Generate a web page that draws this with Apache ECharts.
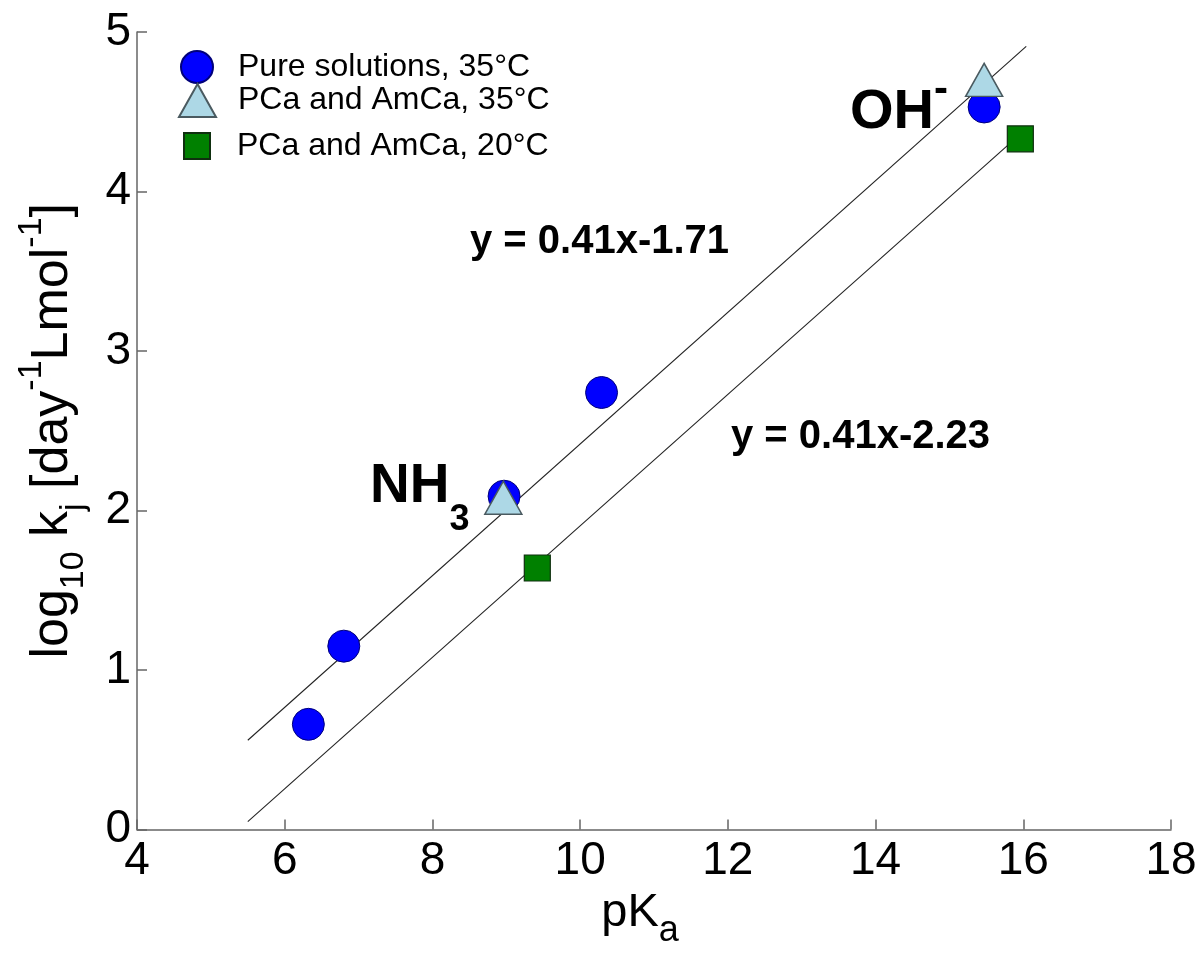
<!DOCTYPE html>
<html><head><meta charset="utf-8">
<script src="https://cdn.jsdelivr.net/npm/echarts@6/dist/echarts.min.js"></script>
<style>html,body{margin:0;padding:0;background:#fff}#c{width:1204px;height:954px}</style>
</head><body><div id="c"></div>
<script>
// ---- data ----
const seriesNames = ['Pure solutions, 35°C', 'PCa and AmCa, 35°C', 'PCa and AmCa, 20°C'];
const pureX = [6.32, 6.80, 8.97, 10.29, 15.47];
const pureY = [0.66, 1.15, 2.09, 2.74, 4.53];
const mix35X = [8.96, 15.47];
const mix35Y = [2.08, 4.70];
const mix20X = [9.42, 15.96];
const mix20Y = [1.64, 4.33];
const fit35X = [5.50, 16.04];
const fit35Y = [0.56, 4.91];
const fit20X = [5.50, 15.96];
const fit20Y = [0.05, 4.36];
const xTicks = [4, 6, 8, 10, 12, 14, 16, 18];
const yTicks = [0, 1, 2, 3, 4, 5];
const eqTexts = ['y = 0.41x-1.71', 'y = 0.41x-2.23'];

const zip = (xs, ys) => xs.map((x, i) => [x, ys[i]]);
const FONT = 'Liberation Sans, Arial, Helvetica, sans-serif';
const axisCol = '#666666';

const chart = echarts.init(document.getElementById('c'), null, {renderer: 'canvas'});

function legendFor(name, icon, left, top, w, h, padLeft, keep) {
  return {
    data: [{name: name, icon: icon}],
    left: left, top: top, padding: 0,
    itemWidth: w, itemHeight: h,
    symbolKeepAspect: keep,
    selectedMode: false,
    textStyle: {fontFamily: FONT, fontSize: 32, color: '#000', padding: [0, 0, 4, padLeft]}
  };
}

const option = {
  animation: false,
  backgroundColor: '#fff',
  grid: {left: 137, right: 33, top: 32, bottom: 121, containLabel: false},
  legend: [
    legendFor(seriesNames[0], 'circle', 180, 50, 32, 32, 20, true),
    legendFor(seriesNames[1], 'triangle', 178, 83, 37, 33, 17, false),
    legendFor(seriesNames[2], 'rect', 183, 130, 26, 26, 22, true)
  ],
  xAxis: {
    type: 'value', min: xTicks[0], max: xTicks[xTicks.length - 1], interval: xTicks[1] - xTicks[0],
    splitLine: {show: false},
    axisLine: {show: true, onZero: false, lineStyle: {color: axisCol, width: 1.5}},
    axisTick: {show: true, inside: true, length: 10, lineStyle: {color: axisCol, width: 1.5}},
    axisLabel: {fontFamily: FONT, fontSize: 46, color: '#000', margin: 9, showMinLabel: true, showMaxLabel: true},
    name: '{m|pK}{s|a}',
    nameLocation: 'middle', nameGap: 33,
    nameTextStyle: {
      padding: [0, 28, 0, 0],
      rich: {
        m: {fontFamily: FONT, fontSize: 47, color: '#000', lineHeight: 72, verticalAlign: 'middle'},
        s: {fontFamily: FONT, fontSize: 36, color: '#000', verticalAlign: 'bottom'}
      }
    }
  },
  yAxis: {
    type: 'value', min: yTicks[0], max: yTicks[yTicks.length - 1], interval: yTicks[1] - yTicks[0],
    splitLine: {show: false},
    axisLine: {show: true, onZero: false, lineStyle: {color: axisCol, width: 1.5}},
    axisTick: {show: true, inside: true, length: 10, lineStyle: {color: axisCol, width: 1.5}},
    axisLabel: {fontFamily: FONT, fontSize: 46, color: '#000', margin: 6, showMinLabel: true, showMaxLabel: true},
    name: '{m|log}{s|10}{m| k}{s|j}{m| [day}{p|-1}{m|Lmol}{p|-1}{m|]}',
    nameLocation: 'middle', nameGap: 46, nameRotate: 90,
    nameTextStyle: {
      rich: {
        m: {fontFamily: FONT, fontSize: 52, color: '#000', lineHeight: 76, verticalAlign: 'middle'},
        s: {fontFamily: FONT, fontSize: 34, color: '#000', verticalAlign: 'bottom'},
        p: {fontFamily: FONT, fontSize: 34, color: '#000', verticalAlign: 'top'}
      }
    }
  },
  series: [
    {type: 'line', data: zip(fit35X, fit35Y), symbol: 'none', silent: true,
     lineStyle: {color: '#222', width: 1.1}, z: 1},
    {type: 'line', data: zip(fit20X, fit20Y), symbol: 'none', silent: true,
     lineStyle: {color: '#222', width: 1.1}, z: 1},
    {name: seriesNames[0], type: 'scatter', data: zip(pureX, pureY), symbol: 'circle', symbolSize: 32,
     itemStyle: {color: '#0000ff', borderColor: '#00007a', borderWidth: 1, opacity: 1}, z: 2},
    {name: seriesNames[1], type: 'scatter', data: zip(mix35X, mix35Y), symbol: 'triangle', symbolSize: [37, 33],
     itemStyle: {color: '#add8e6', borderColor: '#4a5a60', borderWidth: 1.5, opacity: 1}, z: 3},
    {name: seriesNames[2], type: 'scatter', data: zip(mix20X, mix20Y), symbol: 'rect', symbolSize: 26,
     itemStyle: {color: '#008000', borderColor: '#0f2f0f', borderWidth: 1.2, opacity: 1}, z: 3}
  ],
  graphic: [
    {type: 'text', left: 470, top: 241.6 - 22.5, silent: true,
     style: {text: eqTexts[0], fontFamily: FONT, fontWeight: 'bold', fontSize: 40, fill: '#000', lineHeight: 45}},
    {type: 'text', left: 731, top: 436.5 - 22.5, silent: true,
     style: {text: eqTexts[1], fontFamily: FONT, fontWeight: 'bold', fontSize: 40, fill: '#000', lineHeight: 45}},
    {type: 'text', left: 370, top: 459, silent: true,
     style: {text: '{m|NH}{s|3}',
       rich: {
         m: {fontFamily: FONT, fontWeight: 'bold', fontSize: 55, fill: '#000', lineHeight: 104, verticalAlign: 'middle'},
         s: {fontFamily: FONT, fontWeight: 'bold', fontSize: 36, fill: '#000', verticalAlign: 'bottom'}
       }}},
    {type: 'text', left: 850, top: 69.5, silent: true,
     style: {text: '{m|OH}{p|-}',
       rich: {
         m: {fontFamily: FONT, fontWeight: 'bold', fontSize: 56, fill: '#000', lineHeight: 87, verticalAlign: 'middle'},
         p: {fontFamily: FONT, fontWeight: 'bold', fontSize: 42, fill: '#000', verticalAlign: 'top'}
       }}}
  ]
};
chart.setOption(option);
</script>
</body></html>
